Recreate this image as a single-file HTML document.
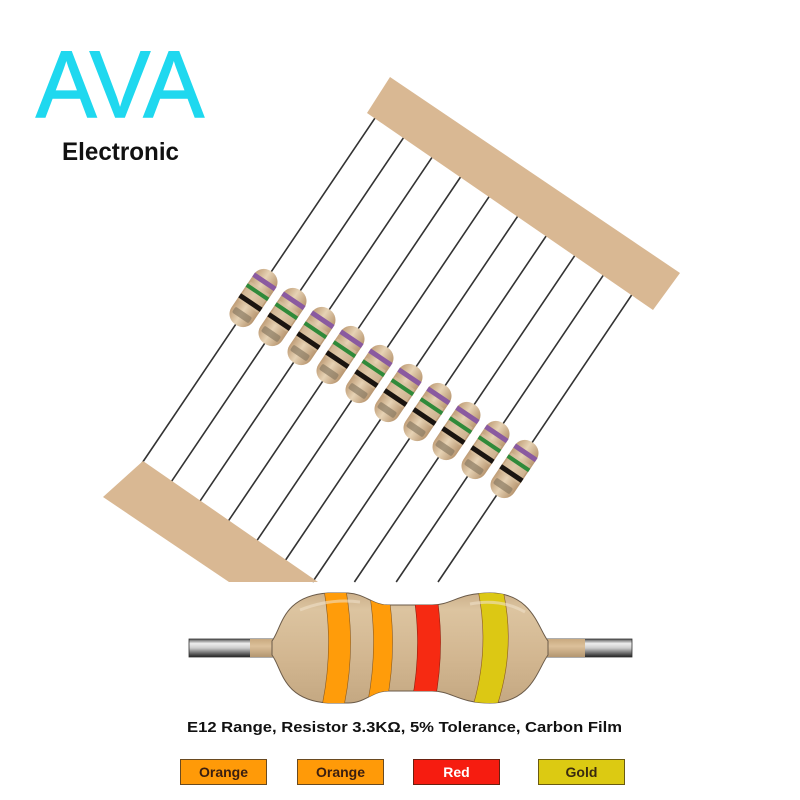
<!DOCTYPE html>
<html><head><meta charset="utf-8"><style>
html,body{margin:0;padding:0;background:#fff;width:800px;height:800px;overflow:hidden}
svg{display:block}
</style></head><body>
<svg width="800" height="800" viewBox="0 0 800 800" xmlns="http://www.w3.org/2000/svg">
<defs>
<linearGradient id="lead" x1="0" y1="0" x2="0" y2="1">
<stop offset="0" stop-color="#555"/><stop offset="0.25" stop-color="#eee"/><stop offset="0.5" stop-color="#ccc"/><stop offset="0.8" stop-color="#666"/><stop offset="1" stop-color="#222"/>
</linearGradient>
<linearGradient id="tanlead" x1="0" y1="0" x2="0" y2="1">
<stop offset="0" stop-color="#c9aa80"/><stop offset="0.4" stop-color="#dcc09a"/><stop offset="1" stop-color="#b39670"/>
</linearGradient>
<linearGradient id="body" x1="0" y1="0" x2="0" y2="1">
<stop offset="0" stop-color="#ccb08a"/><stop offset="0.15" stop-color="#dcc4a0"/><stop offset="0.6" stop-color="#d2b690"/><stop offset="1" stop-color="#c4a882"/>
</linearGradient>
<linearGradient id="sb" x1="0" y1="0" x2="1" y2="0">
<stop offset="0" stop-color="#c09e78"/><stop offset="0.45" stop-color="#e6d2b4"/><stop offset="1" stop-color="#b89670"/>
</linearGradient>
<clipPath id="bc"><path d="M272,641 C282,628 282,596 328,593 L348,593 C366,594 372,605 388,605 L432,605 C452,605 458,593 490,593 C532,593 538,628 548,641 L548,655 C538,668 532,703 490,703 C458,703 452,691 432,691 L388,691 C372,691 366,703 348,703 L328,703 C282,700 282,668 272,655 Z"/></clipPath>
<g id="r">
<rect x="-13" y="-32" width="26" height="64" rx="12" fill="url(#sb)"/>
<rect x="-11.5" y="-12" width="23" height="22" fill="#d9c2a0" opacity="0.6"/>
<rect x="-13" y="-22" width="26" height="5" fill="#8a5aa0"/>
<rect x="-13" y="-9" width="26" height="4" fill="#2f8a3a"/>
<rect x="-13" y="3" width="26" height="5" fill="#1a1410"/>
<rect x="-10" y="17" width="20" height="7" rx="2" fill="#8a7a62" opacity="0.7"/>
</g>
</defs>

<text x="36" y="117" font-family="Liberation Sans, sans-serif" font-size="95" fill="#1fd8ef" stroke="#1fd8ef" stroke-width="1.5" textLength="168" lengthAdjust="spacingAndGlyphs">AVA</text>
<text x="62" y="160" font-family="Liberation Sans, sans-serif" font-size="25" font-weight="bold" fill="#111" textLength="117" lengthAdjust="spacingAndGlyphs">Electronic</text>

<g stroke="#333" stroke-width="1.6" fill="none">
<line x1="381.8" y1="108" x2="137.4" y2="470"/>
<line x1="410.3" y1="127.7" x2="166.1" y2="489.4"/>
<line x1="438.8" y1="147.3" x2="194.8" y2="508.8"/>
<line x1="467.3" y1="167" x2="223.5" y2="528.2"/>
<line x1="495.9" y1="186.6" x2="252.2" y2="547.6"/>
<line x1="524.4" y1="206.3" x2="280.9" y2="567"/>
<line x1="552.9" y1="226" x2="312.6" y2="582"/>
<line x1="581.5" y1="245.6" x2="354.4" y2="582"/>
<line x1="610" y1="265.3" x2="396.2" y2="582"/>
<line x1="638.5" y1="284.9" x2="438" y2="582"/>
</g>

<polygon points="390,77 680,273 653,310 367,113" fill="#d9b893"/>
<polygon points="143,461 318,582 229,582 103,497" fill="#d9b893"/>

<g>
<use href="#r" transform="translate(253.5,298) rotate(34)"/>
<use href="#r" transform="translate(282.5,317) rotate(34)"/>
<use href="#r" transform="translate(311.5,336) rotate(34)"/>
<use href="#r" transform="translate(340.5,355) rotate(34)"/>
<use href="#r" transform="translate(369.5,374) rotate(34)"/>
<use href="#r" transform="translate(398.5,393) rotate(34)"/>
<use href="#r" transform="translate(427.5,412) rotate(34)"/>
<use href="#r" transform="translate(456.5,431) rotate(34)"/>
<use href="#r" transform="translate(485.5,450) rotate(34)"/>
<use href="#r" transform="translate(514.5,469) rotate(34)"/>
</g>

<rect x="189" y="639" width="443" height="18" fill="url(#lead)" stroke="#333" stroke-width="0.8"/>
<rect x="250" y="639" width="335" height="18" fill="url(#tanlead)"/>
<path d="M272,641 C282,628 282,596 328,593 L348,593 C366,594 372,605 388,605 L432,605 C452,605 458,593 490,593 C532,593 538,628 548,641 L548,655 C538,668 532,703 490,703 C458,703 452,691 432,691 L388,691 C372,691 366,703 348,703 L328,703 C282,700 282,668 272,655 Z" fill="url(#body)" stroke="#6a5a48" stroke-width="1"/>
<g clip-path="url(#bc)" stroke="#8a5a20" stroke-width="0.6">
<path d="M324,590 L346,590 Q356,648 344,706 L322,706 Q334,648 324,590 Z" fill="#ff9c0a"/>
<path d="M369,590 L388,590 Q398,648 386,706 L367,706 Q379,648 369,590 Z" fill="#ff9c0a"/>
<path d="M413,590 L436,590 Q446,648 434,706 L411,706 Q423,648 413,590 Z" fill="#f62a12" stroke="#902010"/>
<path d="M478,590 L503,590 Q516,648 497,706 L473,706 Q490,648 478,590 Z" fill="#dcc814"/>
</g>
<path d="M300,610 Q330,598 360,602" stroke="#efe0c8" stroke-width="3" fill="none" opacity="0.6"/>
<path d="M470,604 Q500,598 525,612" stroke="#efe0c8" stroke-width="3" fill="none" opacity="0.6"/>

<text x="187" y="732" font-family="Liberation Sans, sans-serif" font-weight="bold" font-size="14.5" fill="#111" textLength="435" lengthAdjust="spacingAndGlyphs">E12 Range, Resistor 3.3KΩ, 5% Tolerance, Carbon Film</text>

<g font-family="Liberation Sans, sans-serif" font-weight="bold" font-size="14" text-anchor="middle">
<rect x="180.5" y="759.5" width="86" height="25" fill="#ff9a08" stroke="#6a4a20"/>
<text x="223.5" y="777" fill="#3a1e10">Orange</text>
<rect x="297.5" y="759.5" width="86" height="25" fill="#ff9a08" stroke="#6a4a20"/>
<text x="340.5" y="777" fill="#3a1e10">Orange</text>
<rect x="413.5" y="759.5" width="86" height="25" fill="#f61c10" stroke="#6a2010"/>
<text x="456.5" y="777" fill="#fff">Red</text>
<rect x="538.5" y="759.5" width="86" height="25" fill="#dcca12" stroke="#6a5a10"/>
<text x="581.5" y="777" fill="#3a2a10">Gold</text>
</g>
</svg>
</body></html>
